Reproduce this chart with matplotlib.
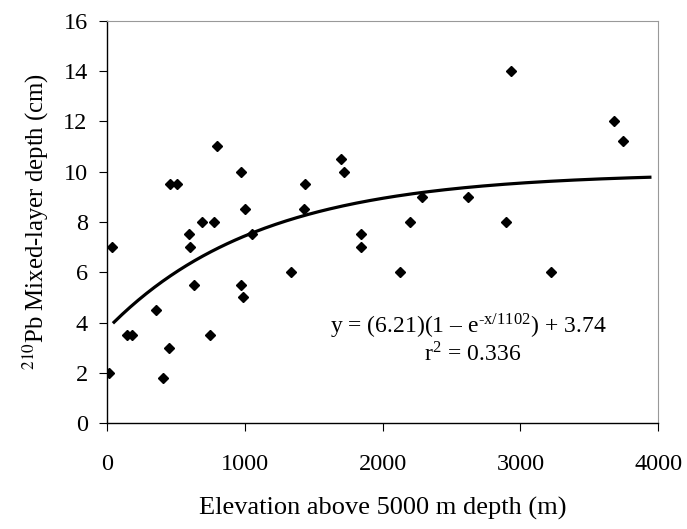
import numpy as np
import matplotlib
matplotlib.use("Agg")
import matplotlib.pyplot as plt

plt.rcParams['font.family'] = ['Liberation Serif', 'DejaVu Serif']
plt.rcParams['mathtext.fontset'] = 'stix'

# Data
elevation = [14, 34, 145, 178, 352, 402, 448, 458, 504, 593, 602, 627, 687, 747,
             778, 795, 971, 971, 988, 998, 1055, 1333, 1429, 1439, 1701, 1720,
             1843, 1843, 2127, 2199, 2283, 2621, 2898, 2929, 3223, 3676, 3748]
depth = [2.0, 7.0, 3.5, 3.5, 4.5, 1.8, 3.0, 9.5, 9.5, 7.5, 7.0, 5.5, 8.0, 3.5,
         8.0, 11.0, 10.0, 5.5, 5.0, 8.5, 7.5, 6.0, 8.5, 9.5, 10.5, 10.0,
         7.5, 7.0, 6.0, 8.0, 9.0, 9.0, 8.0, 14.0, 6.0, 12.0, 11.2]

# Fitted curve parameters (as shown on the chart)
fit_a, fit_b, fit_c = 6.21, 1102.0, 3.74
fit_x_range = [50, 3940]

x_ticks = [0, 1000, 2000, 3000, 4000]
y_ticks = [0, 2, 4, 6, 8, 10, 12, 14, 16]

fig = plt.figure(figsize=(6.87, 5.29), dpi=100)
ax = fig.add_axes([0.156, 0.2, 0.802, 0.761])

xf = np.linspace(fit_x_range[0], fit_x_range[1], 200)
yf = fit_a * (1 - np.exp(-xf / fit_b)) + fit_c
ax.plot(xf, yf, color='black', lw=2.3, zorder=2)
ax.plot(elevation, depth, linestyle='none', marker='D', markersize=5.5,
        color='black', zorder=3)

ax.set_xlim(0, 4000)
ax.set_ylim(0, 16)
ax.set_xticks(x_ticks)
ax.set_yticks(y_ticks)
ax.tick_params(axis='both', direction='out', length=6, width=0.8,
               labelsize=17.5, colors='black')
ax.tick_params(axis='y', pad=8)
ax.tick_params(axis='x', pad=16)

for s in ['left', 'bottom']:
    ax.spines[s].set_color('black')
    ax.spines[s].set_linewidth(1.0)
for s in ['top', 'right']:
    ax.spines[s].set_color('#999999')
    ax.spines[s].set_linewidth(0.8)

ax.set_xlabel('Elevation above 5000 m depth (m)', fontsize=19, labelpad=16)
ax.set_ylabel(r'$^{210}$Pb Mixed-layer depth (cm)', fontsize=17.8, labelpad=9)

ax.text(2620, 3.85, 'y = (6.21)(1 \u2013 e$^{\\mathregular{\u2010x/1102}}$) + 3.74',
        fontsize=17, ha='center', va='center')
ax.text(2650, 2.75, r'r$^{\mathregular{2}}$ = 0.336',
        fontsize=17, ha='center', va='center')

fig.savefig('out.png', dpi=100)
